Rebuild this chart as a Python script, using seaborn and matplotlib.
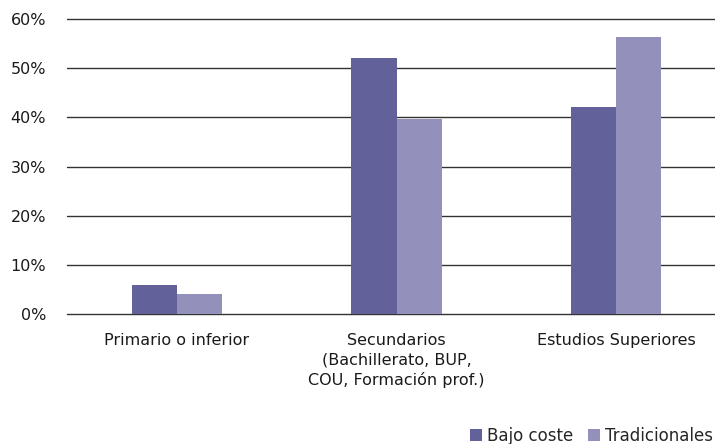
import pandas as pd
import seaborn as sns
import matplotlib.pyplot as plt
from matplotlib.ticker import PercentFormatter

# Data
categories = ["Primario o inferior",
              "Secundarios\n(Bachillerato, BUP,\nCOU, Formación prof.)",
              "Estudios Superiores"]
bajo_coste = [6.0, 52.0, 42.1]
tradicionales = [4.1, 39.6, 56.3]
series_names = ["Bajo coste", "Tradicionales"]

df = pd.DataFrame({
    "categoria": categories * 2,
    "serie": [series_names[0]] * 3 + [series_names[1]] * 3,
    "valor": bajo_coste + tradicionales,
})

sns.set_theme(style="white")
plt.rcParams["font.family"] = ["DejaVu Sans"]

fig = plt.figure(figsize=(7.15, 4.44), dpi=100)
ax = fig.add_axes([67 / 715, 1 - 314 / 444, 659 / 715, 295 / 444])

sns.barplot(data=df, x="categoria", y="valor", hue="serie",
            palette=["#626199", "#9391bb"], width=0.41, saturation=1,
            linewidth=0, ax=ax, zorder=3)

ax.set_ylim(0, 60)
ax.set_xlim(-0.5, 2.5)
ax.set_yticks(range(0, 61, 10))
ax.yaxis.set_major_formatter(PercentFormatter(decimals=0))
ax.grid(axis="y", color="#333333", linewidth=1.0, zorder=0)
for gl in ax.get_ygridlines():
    gl.set_clip_on(False)
ax.set_axisbelow(True)
for s in ax.spines.values():
    s.set_visible(False)
ax.tick_params(axis="both", length=0, labelsize=11.5, colors="#1a1a1a")
ax.tick_params(axis="y", pad=15)
ax.tick_params(axis="x", pad=14)
for lbl in ax.get_xticklabels():
    lbl.set_linespacing(1.35)
ax.set_xlabel("")
ax.set_ylabel("")

handles, labels = ax.get_legend_handles_labels()
ax.legend_.remove()
fig.legend(handles, labels, loc="center right",
           bbox_to_anchor=(713 / 715, 1 - 436 / 444), ncol=2,
           frameon=False, fontsize=12, handlelength=0.7, handleheight=0.7,
           handletextpad=0.3, columnspacing=0.9, borderaxespad=0,
           borderpad=0)

fig.savefig("out.png", dpi=100)
